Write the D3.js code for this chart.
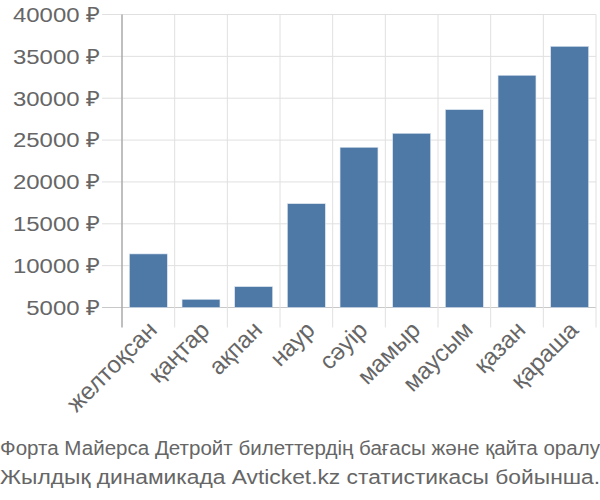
<!DOCTYPE html>
<html>
<head>
<meta charset="utf-8">
<script src="https://cdn.jsdelivr.net/npm/d3@7"></script>
<style>
  body { margin: 0; background: #fff; }
  text { font-family: "Liberation Sans", Arial, sans-serif; fill: #666; }
</style>
</head>
<body>
<div id="chart"></div>
<script>
// Data
const months = ["желтоқсан", "қаңтар", "ақпан", "наур", "сәуір", "мамыр", "маусым", "қазан", "қараша"];
const prices = [11400, 5980, 7490, 17400, 24140, 25810, 28630, 32740, 36200];
const yTicks = [5000, 10000, 15000, 20000, 25000, 30000, 35000, 40000];
const titleLines = [
    "Форта Майерса Детройт билеттердің бағасы және қайта оралу",
    "Жылдық динамикада Avticket.kz статистикасы бойынша."
];

const W = 600, H = 500;
const margin = { top: 14.5, right: 4, bottom: 192.5, left: 122 };
const width = W - margin.left - margin.right;
const height = H - margin.top - margin.bottom;

const svg = d3.select("#chart")
    .append("svg")
    .attr("width", W)
    .attr("height", H);

const g = svg.append("g")
    .attr("transform", `translate(${margin.left},${margin.top})`);

const x = d3.scaleBand()
    .domain(months)
    .range([0, width])
    .paddingInner(0.28)
    .paddingOuter(0.14);

const y = d3.scaleLinear()
    .domain([5000, 40000])
    .range([height, 0]);

// Horizontal grid lines (extend left as ticks)
g.selectAll(".hgrid")
    .data(yTicks)
    .enter()
    .append("line")
    .attr("x1", -20)
    .attr("x2", width)
    .attr("y1", d => y(d))
    .attr("y2", d => y(d))
    .attr("stroke", d => d === 5000 ? "#c8c8c8" : "#e0e0e0")
    .attr("stroke-width", 1);

// Vertical grid lines at band boundaries
const step = x.step();
const bounds = d3.range(months.length + 1).map(i => x(months[0]) - step * x.paddingInner() / 2 + i * step);
g.selectAll(".vgrid")
    .data(bounds)
    .enter()
    .append("line")
    .attr("x1", d => d)
    .attr("x2", d => d)
    .attr("y1", 0)
    .attr("y2", height + 20)
    .attr("stroke", (d, i) => i === 0 ? "#aaa" : "#e0e0e0")
    .attr("stroke-width", (d, i) => i === 0 ? 1.5 : 1);

// Y labels (slightly wide glyphs, as in the reference)
g.selectAll(".ylabel")
    .data(yTicks)
    .enter()
    .append("text")
    .attr("transform", d => `translate(-22,${y(d)}) scale(1.14,1)`)
    .attr("dy", "0.35em")
    .attr("text-anchor", "end")
    .style("font-size", "21px")
    .text(d => d + " ₽");

// Bars
g.selectAll(".bar")
    .data(months)
    .enter()
    .append("rect")
    .attr("x", d => x(d))
    .attr("y", (d, i) => y(prices[i]))
    .attr("width", x.bandwidth())
    .attr("height", (d, i) => height - y(prices[i]))
    .attr("fill", "#4e79a7")
    .attr("stroke", "#dbe4ee")
    .attr("stroke-width", 0.6);

// X labels rotated
g.selectAll(".xlabel")
    .data(months)
    .enter()
    .append("text")
    .attr("text-anchor", "end")
    .attr("transform", d => `translate(${x(d) + x.bandwidth() / 2 + 4},${height + 18}) rotate(-45)`)
    .attr("dy", "0.35em")
    .style("font-size", "24px")
    .text(d => d);

// Title lines
svg.selectAll(".title")
    .data(titleLines)
    .enter()
    .append("text")
    .attr("x", 0)
    .attr("y", (d, i) => 455 + i * 29)
    .attr("textLength", 600)
    .attr("lengthAdjust", "spacingAndGlyphs")
    .style("font-size", "20px")
    .text(d => d);
</script>
</body>
</html>
